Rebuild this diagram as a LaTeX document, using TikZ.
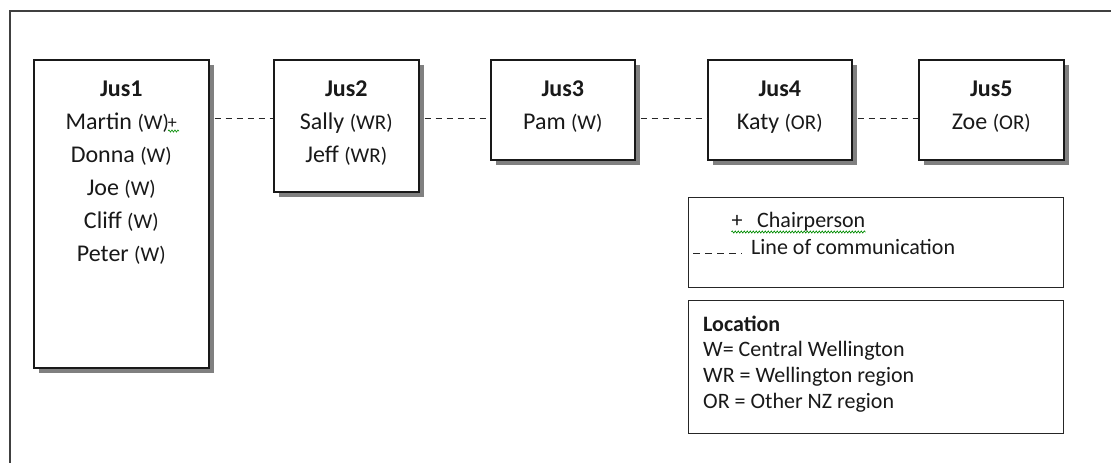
\documentclass[tikz,border=0pt]{standalone}
\usepackage{fontspec}
\setmainfont{Carlito}
\usetikzlibrary{calc,shadows,decorations.pathmorphing}

% smaller type for the location codes
\newcommand\locode[1]{{\fontsize{21bp}{21bp}\selectfont(#1)}}

\tikzset{
  jbox/.style={draw=black!90, line width=1.6bp, fill=white, rectangle,
    inner sep=0pt, anchor=north west,
    drop shadow={shadow xshift=5bp, shadow yshift=-5bp, fill=black!50, opacity=1}},
  legbox/.style={draw=black!85, line width=1.4bp, rectangle, inner sep=0pt,
    anchor=north west},
  btext/.style={font=\fontsize{24bp}{33bp}\selectfont, align=center,
    inner sep=0pt, anchor=north, text=black!90},
  ltext/.style={font=\fontsize{22bp}{26bp}\selectfont, inner sep=0pt,
    anchor=base west, text=black!90},
  comm/.style={draw=black!85, line width=1bp, dash pattern=on 6bp off 5bp},
  squiggle/.style={draw=green!55!black, line width=0.6bp, decorate,
    decoration={snake, amplitude=1.1bp, segment length=3bp}},
}

\begin{document}
\begin{tikzpicture}[x=1bp, y=-1bp]
  \fill[white] (0,0) rectangle (1111,463);
  \useasboundingbox (0,0) rectangle (1111,463);

  % outer frame, running off the page to the right and bottom
  \draw[black!75, line width=2bp] (1111,11) -- (10,11) -- (10,463);

  % boxes
  \node[jbox, minimum width=175bp, minimum height=308bp] (j1) at (33,59) {};
  \node[jbox, minimum width=145bp, minimum height=132bp] (j2) at (273,59) {};
  \node[jbox, minimum width=144bp, minimum height=100bp] (j3) at (490,59) {};
  \node[jbox, minimum width=144bp, minimum height=100bp] (j4) at (707,59) {};
  \node[jbox, minimum width=145bp, minimum height=100bp] (j5) at (918,59) {};

  % box contents
  \node[btext] (t1) at ($(j1.north)+(0,22)$)
    {\textbf{Jus1}\\Martin \locode{W}\kern-1bp{\fontsize{18bp}{18bp}\selectfont\raisebox{1bp}{+}}\\Donna \locode{W}\\Joe \locode{W}\\Cliff \locode{W}\\Peter \locode{W}};
  \node[btext] (t2) at ($(j2.north)+(0,22)$)
    {\textbf{Jus2}\\Sally \locode{WR}\\Jeff \locode{WR}};
  \node[btext] (t3) at ($(j3.north)+(0,22)$)
    {\textbf{Jus3}\\Pam \locode{W}};
  \node[btext] (t4) at ($(j4.north)+(0,22)$)
    {\textbf{Jus4}\\Katy \locode{OR}};
  \node[btext] (t5) at ($(j5.north)+(0,22)$)
    {\textbf{Jus5}\\Zoe \locode{OR}};

  % spell-check mark under the chairperson sign
  \coordinate (sq1a) at (168,131);
  \coordinate (sq1b) at (179,131);
  \draw[squiggle] (sq1a) -- (sq1b);

  % lines of communication
  \draw[comm] ($(j1.north east)+(5,60)$) -- ($(j2.north west)+(0,60)$);
  \draw[comm] ($(j2.north east)+(5,60)$) -- ($(j3.north west)+(0,60)$);
  \draw[comm] ($(j3.north east)+(5,60)$) -- ($(j4.north west)+(0,60)$);
  \draw[comm] ($(j4.north east)+(5,60)$) -- ($(j5.north west)+(0,60)$);

  % key
  \node[legbox, minimum width=375bp, minimum height=90bp] (key) at (688,197) {};
  \node[ltext, anchor=base] (plus) at (737,228) {+};
  \node[ltext] (chair) at (757,228) {Chairperson};
  \draw[squiggle] (plus.base west |- 0,232) -- (chair.base east |- 0,232);
  \coordinate (dsa) at (693,254);
  \coordinate (dsb) at (742,254);
  \draw[comm, dash pattern=on 7bp off 5bp] (dsa) -- (dsb);
  \node[ltext] (commtext) at (751,255) {Line of communication};

  % location codes
  \node[legbox, minimum width=375bp, minimum height=133bp] (locbox) at (688,300) {};
  \node[ltext] (lochead) at (703,332) {\textbf{Location}};
  \node[ltext] (locw) at (703,357) {W= Central Wellington};
  \node[ltext] (locwr) at (703,383) {WR = Wellington region};
  \node[ltext] (locor) at (703,409) {OR = Other NZ region};
\end{tikzpicture}
\end{document}
